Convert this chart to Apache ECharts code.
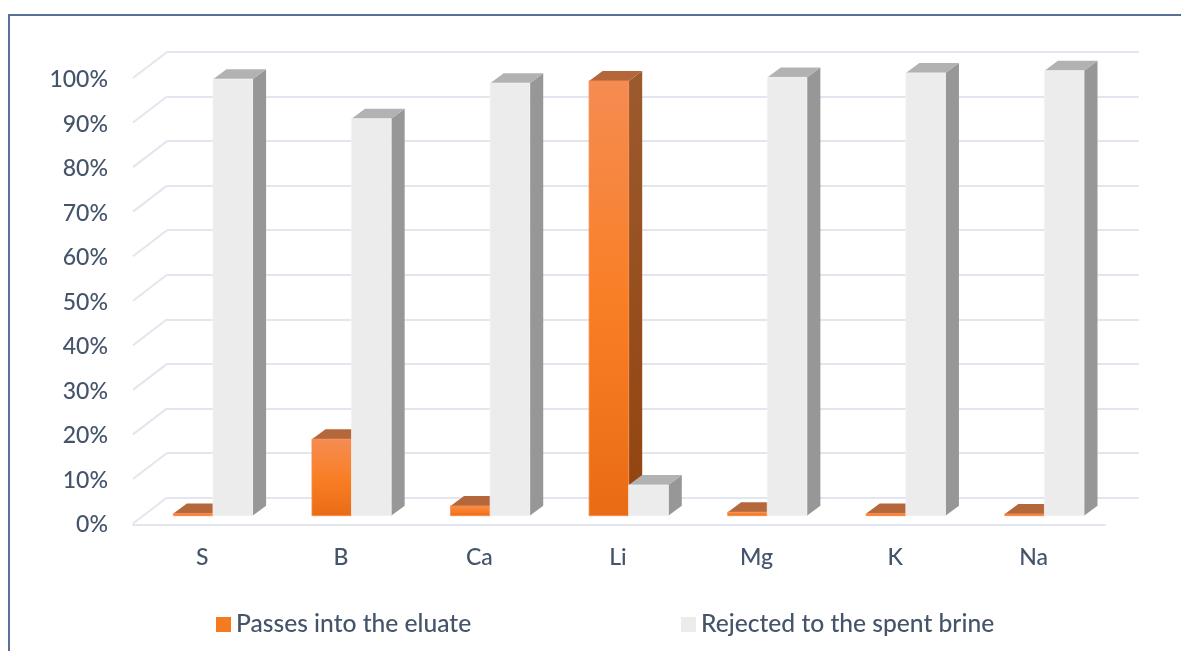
<!DOCTYPE html>
<html>
<head>
<meta charset="utf-8">
<script src="https://cdn.jsdelivr.net/npm/echarts@6/dist/echarts.min.js"></script>
<style>html,body{margin:0;padding:0;background:#fff}#c{width:1181px;height:651px}</style>
</head>
<body>
<div id="c"></div>
<script>
const categories = ['S','B','Ca','Li','Mg','K','Na'];
const eluate = [0.5,17.2,2.2,97.7,0.8,0.5,0.4];
const rejected = [98.1,89.2,97.2,6.9,98.5,99.5,100];
const ticks = [0,10,20,30,40,50,60,70,80,90,100];

const TEXT = '#44546A', GRID = '#E3E6EE', FONT = 'Lato';
const DX = 13.5, DY = 10, BAR_W = 39.6, WALL_DX = 34, WALL_DY = 26;

const grad = stops => ({type:'linear',x:0,y:0,x2:0,y2:1,colorStops:stops});
const orange = {
  front: grad([{offset:0,color:'#F58C52'},{offset:.5,color:'#F97F26'},{offset:1,color:'#E96C15'}]),
  side: grad([{offset:0,color:'#9C5A2E'},{offset:1,color:'#92440F'}]),
  top: '#B5673C', edge:'#F58A4E'
};
const grey = {front:'#ECECEC', side:'#979797', top:'#B2B2B2', edge:'#F3F3F3'};

function bar3d(pal, dir){
  return function(params, api){
    const i = api.value(0), v = api.value(1);
    const c = api.coord([i, v]), b = api.coord([i, 0]);
    const x0 = dir < 0 ? c[0] - BAR_W : c[0], x1 = x0 + BAR_W;
    const yT = c[1], yB = b[1];
    return {type:'group', children:[
      {type:'polygon', shape:{points:[[x1,yT],[x1+DX,yT-DY],[x1+DX,yB-DY],[x1,yB]]}, style:{fill:pal.side}},
      {type:'polygon', shape:{points:[[x0,yT],[x0+DX,yT-DY],[x1+DX,yT-DY],[x1,yT]]}, style:{fill:pal.top}},
      {type:'rect', shape:{x:x0,y:yT,width:BAR_W,height:yB-yT}, style:{fill:pal.front, stroke:pal.edge, lineWidth:.8}}
    ]};
  };
}
function wallDiagonal(params, api){
  const v = api.value(0);
  const size = api.size([1,0])[0];
  const p = api.coord([0, v]);
  const x = p[0] - size/2;
  return {type:'line', shape:{x1:x, y1:p[1], x2:x-WALL_DX, y2:p[1]+WALL_DY},
          style:{stroke:GRID, lineWidth:2, fill:null}};
}
const hidden = {axisLine:{show:false},axisTick:{show:false},axisLabel:{show:false},splitLine:{show:false}};

const chart = echarts.init(document.getElementById('c'), null, {renderer:'canvas'});
chart.setOption({
  animation:false,
  backgroundColor:'#fff',
  graphic:[{type:'rect', z:-1, shape:{x:9,y:15,width:1400,height:900},
            style:{fill:null, stroke:'#5A6F96', lineWidth:2}}],
  textStyle:{fontFamily:FONT},
  legend:[
    {data:['Passes into the eluate'], left:211, top:607, itemWidth:15, itemHeight:15, itemGap:8,
     icon:'rect', textStyle:{color:TEXT,fontSize:24.6,fontFamily:FONT,fontWeight:500}},
    {data:['Rejected to the spent brine'], left:676, top:607, itemWidth:15, itemHeight:15, itemGap:7,
     icon:'rect', textStyle:{color:TEXT,fontSize:24.6,fontFamily:FONT,fontWeight:500}}
  ],
  grid:[
    {left:167, width:972, top:52, height:445.5},
    {left:133, width:970, top:78, height:445},
    {left:143.7, width:970, top:70.7, height:445},
    {left:133, width:972, top:80, height:445}
  ],
  xAxis:[
    {type:'category', gridIndex:0, data:categories, ...hidden},
    {type:'category', gridIndex:1, data:categories,
     axisLine:{show:false}, axisTick:{show:false},
     axisLabel:{color:TEXT,fontSize:23,fontFamily:FONT,fontWeight:500,margin:23}},
    {type:'category', gridIndex:2, data:categories, ...hidden},
    {type:'category', gridIndex:3, data:categories, offset:2,
     axisLine:{show:true,lineStyle:{color:GRID,width:2}}, axisTick:{show:false}, axisLabel:{show:false}, splitLine:{show:false}}
  ],
  yAxis:[
    {type:'value', gridIndex:0, min:0, max:100, interval:10,
     axisLine:{show:false},axisTick:{show:false},axisLabel:{show:false},
     splitLine:{show:true,lineStyle:{color:GRID,width:2}}},
    {type:'value', gridIndex:1, min:0, max:100, interval:10, ...hidden},
    {type:'value', gridIndex:2, min:0, max:100, interval:10, ...hidden},
    {type:'value', gridIndex:3, min:0, max:100, interval:10,
     axisLine:{show:false},axisTick:{show:false},splitLine:{show:false},
     axisLabel:{color:TEXT,fontSize:23,fontFamily:FONT,fontWeight:500,margin:25,formatter:'{value}%'}}
  ],
  series:[
    {type:'custom', xAxisIndex:0, yAxisIndex:0, z:1, silent:true, clip:false,
     data:ticks.map(t=>[t]), encode:{y:0}, renderItem:wallDiagonal},
    {type:'custom', name:'Passes into the eluate', xAxisIndex:2, yAxisIndex:2, z:3, clip:false,
     itemStyle:{color:'#F47B20'}, encode:{x:0,y:1},
     data:eluate.map((v,i)=>[i,v]), renderItem:bar3d(orange,-1)},
    {type:'custom', name:'Rejected to the spent brine', xAxisIndex:2, yAxisIndex:2, z:4, clip:false,
     itemStyle:{color:'#ECECEC'}, encode:{x:0,y:1},
     data:rejected.map((v,i)=>[i,v]), renderItem:bar3d(grey,1)}
  ]
});
</script>
</body>
</html>
